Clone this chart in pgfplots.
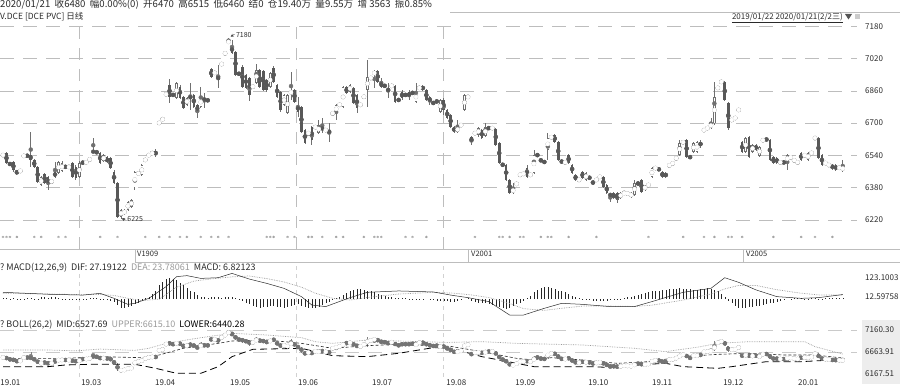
\documentclass[border=0pt]{standalone}
\usepackage{pgfplots}
\pgfplotsset{compat=1.18}
\usepackage{pgfplotstable}
\usepackage{fontspec}
\setmainfont{Noto Sans CJK SC}
\definecolor{dn}{HTML}{585858}
\definecolor{upc}{HTML}{707070}
\definecolor{gridc}{HTML}{BDBDBD}
\definecolor{faint}{HTML}{EDEDED}
\definecolor{txt}{HTML}{2A2A2A}
\definecolor{ltxt}{HTML}{9A9A9A}
\newcommand\lab{\fontsize{8}{9}\selectfont}
\newcommand\ttl{\fontsize{9}{10}\selectfont}

\pgfplotstableread{
i o h l c
0 6537 6552 6530 6547
1 6552 6557 6497 6502
2 6500 6505 6490 6495
3 6507 6512 6460 6468
4 6460 6468 6443 6455
5 6462 6470 6455 6465
6 6535 6545 6530 6540
7 6540 6545 6532 6537
8 6542 6656 6482 6517
9 6517 6522 6477 6482
10 6482 6487 6403 6408
11 6393 6438 6388 6433
12 6448 6455 6398 6403
13 6433 6440 6369 6393
14 6410 6420 6400 6413
15 6458 6507 6428 6433
16 6455 6512 6450 6507
17 6465 6510 6460 6502
18 6485 6490 6477 6482
19 6480 6492 6475 6485
20 6502 6507 6428 6433
21 6482 6490 6420 6428
22 6433 6512 6428 6502
23 6505 6510 6498 6504
24 6505 6512 6500 6507
25 6518 6527 6512 6522
26 6560 6626 6555 6557
27 6557 6560 6550 6555
28 6552 6557 6497 6502
29 6512 6545 6507 6540
30 6530 6535 6500 6505
31 6527 6532 6472 6477
32 6458 6468 6398 6403
33 6403 6408 6230 6235
34 6235 6275 6225 6270
35 6258 6275 6245 6260
36 6270 6312 6265 6309
37 6285 6325 6280 6319
38 6383 6462 6369 6458
39 6443 6465 6438 6458
40 6445 6497 6440 6492
41 6515 6525 6510 6520
42 6540 6547 6537 6542
43 6550 6557 6547 6552
44 6560 6570 6530 6545
45 6700 6706 6695 6702
46 6718 6725 6715 6720
47 6840 6850 6835 6845
48 6889 6919 6800 6829
49 6840 6845 6835 6839
50 6824 6904 6819 6899
51 6879 6889 6819 6824
52 6829 6834 6770 6775
53 6790 6830 6785 6824
54 6830 6899 6765 6826
55 6839 6845 6775 6780
56 6790 6795 6725 6755
57 6780 6879 6775 6829
58 6820 6849 6775 6815
59 6814 6818 6808 6812
60 6968 6973 6923 6928
61 6948 6955 6943 6950
62 6928 6988 6874 6918
63 6990 7000 6985 6995
64 7045 7050 7040 7047
65 7100 7122 7095 7105
66 7082 7112 7042 7047
67 7052 7057 6933 6938
68 6945 6950 6940 6943
69 6978 6988 6874 6879
70 6938 6943 6869 6874
71 6924 6930 6810 6839
72 6880 6885 6875 6882
73 6899 6993 6894 6963
74 6963 6968 6874 6879
75 6958 6963 6859 6864
76 6914 6920 6855 6864
77 6879 6953 6874 6948
78 6973 6983 6899 6904
79 6889 6894 6824 6829
80 6854 6859 6755 6765
81 6790 6845 6785 6839
82 6750 6845 6745 6839
83 6845 6953 6814 6860
84 6864 6870 6800 6805
85 6790 6829 6730 6755
86 6780 6785 6650 6656
87 6666 6670 6596 6601
88 6650 6655 6640 6651
89 6680 6685 6592 6616
90 6680 6685 6675 6681
91 6651 6715 6646 6691
92 6681 6725 6651 6666
93 6665 6670 6660 6666
94 6660 6700 6606 6656
95 6748 6752 6743 6750
96 6750 6795 6715 6790
97 6790 6795 6785 6792
98 6780 6884 6775 6879
99 6879 6884 6844 6849
100 6854 6894 6849 6889
101 6874 6879 6795 6800
102 6839 6845 6750 6775
103 6790 6795 6785 6792
104 6830 6835 6825 6832
105 6864 7013 6780 6928
106 6923 6928 6918 6925
107 6938 6963 6874 6958
108 6958 6963 6899 6904
109 6904 6924 6874 6879
110 6885 6890 6880 6884
111 6866 6899 6824 6864
112 6884 6889 6880 6885
113 6884 6889 6800 6805
114 6815 6820 6810 6814
115 6854 6864 6814 6824
116 6840 6845 6835 6839
117 6854 6864 6814 6829
118 6850 6855 6845 6849
119 6805 6899 6800 6854
120 6874 6880 6870 6875
121 6884 6889 6859 6864
122 6864 6869 6809 6814
123 6829 6834 6790 6805
124 6800 6805 6795 6799
125 6810 6820 6795 6805
126 6755 6819 6750 6814
127 6814 6824 6740 6765
128 6765 6770 6720 6725
129 6740 6745 6676 6681
130 6681 6686 6650 6656
131 6656 6715 6650 6681
132 6690 6695 6685 6691
133 6765 6845 6760 6839
134 6829 6835 6825 6830
135 6631 6636 6592 6606
136 6650 6655 6645 6651
137 6641 6681 6631 6676
138 6666 6671 6621 6626
139 6636 6700 6631 6681
140 6676 6680 6670 6675
141 6675 6680 6670 6676
142 6671 6676 6587 6592
143 6601 6606 6497 6502
144 6495 6500 6488 6492
145 6492 6497 6413 6418
146 6418 6423 6349 6354
147 6354 6403 6349 6378
148 6398 6405 6393 6400
149 6443 6448 6438 6445
150 6448 6453 6443 6450
151 6477 6492 6428 6433
152 6443 6448 6438 6445
153 6455 6567 6450 6542
154 6542 6547 6537 6540
155 6522 6525 6505 6510
156 6508 6512 6503 6507
157 6567 6651 6517 6626
158 6630 6635 6625 6631
159 6641 6646 6601 6606
160 6606 6611 6512 6517
161 6517 6522 6497 6502
162 6505 6510 6500 6507
163 6542 6547 6497 6502
164 6492 6497 6448 6453
165 6443 6448 6413 6418
166 6418 6423 6413 6420
167 6458 6463 6423 6428
168 6418 6458 6413 6453
169 6430 6435 6425 6428
170 6413 6418 6393 6398
171 6418 6423 6413 6420
172 6433 6438 6428 6435
173 6433 6438 6378 6383
174 6393 6398 6349 6354
175 6345 6354 6309 6344
176 6354 6359 6324 6329
177 6354 6359 6304 6319
178 6329 6359 6324 6354
179 6350 6365 6345 6356
180 6350 6355 6345 6352
181 6334 6359 6330 6354
182 6344 6418 6339 6403
183 6403 6410 6390 6400
184 6418 6423 6354 6359
185 6369 6395 6365 6390
186 6393 6398 6388 6395
187 6433 6482 6428 6477
188 6477 6482 6472 6478
189 6472 6477 6465 6470
190 6458 6463 6428 6433
191 6453 6458 6428 6433
192 6490 6495 6485 6492
193 6500 6505 6495 6502
194 6525 6530 6520 6527
195 6542 6616 6537 6601
196 6605 6610 6600 6606
197 6616 6621 6527 6532
198 6532 6537 6527 6530
199 6557 6606 6552 6601
200 6557 6611 6552 6606
201 6597 6616 6577 6596
202 6665 6670 6660 6666
203 6675 6680 6670 6676
204 6676 6725 6670 6700
205 6700 6904 6690 6829
206 6874 6879 6869 6875
207 6904 6909 6899 6905
208 6904 6909 6809 6814
209 6800 6805 6666 6676
210 6715 6720 6710 6716
211 6725 6730 6720 6726
212 6765 6770 6760 6766
213 6606 6611 6552 6557
214 6557 6631 6552 6626
215 6631 6636 6527 6532
216 6557 6597 6552 6592
217 6592 6597 6562 6567
218 6537 6587 6532 6582
219 6615 6620 6610 6616
220 6620 6625 6612 6618
221 6616 6621 6512 6517
222 6532 6537 6497 6502
223 6527 6532 6497 6502
224 6505 6510 6500 6507
225 6510 6515 6495 6500
226 6507 6547 6468 6542
227 6530 6535 6525 6532
228 6515 6520 6510 6517
229 6505 6510 6500 6507
230 6552 6557 6512 6517
231 6540 6545 6535 6542
232 6517 6557 6512 6552
233 6552 6557 6547 6553
234 6626 6631 6620 6627
235 6626 6631 6522 6527
236 6542 6547 6487 6492
237 6502 6507 6497 6503
238 6492 6497 6487 6493
239 6492 6497 6470 6477
240 6492 6497 6463 6468
241 6478 6485 6472 6480
242 6470 6515 6460 6480
}\price

\pgfplotstableread{
i y
0 6136
1 6136
2 6136
4 6136
9 6136
11 6136
16 6136
18 6136
28 6136
33 6136
41 6136
45 6136
48 6136
51 6136
53 6136
57 6136
60 6136
62 6136
65 6136
76 6136
77 6136
78 6136
82 6136
84 6136
88 6136
89 6136
92 6136
96 6136
98 6136
104 6136
107 6136
108 6136
109 6136
116 6136
118 6136
122 6136
136 6136
143 6136
144 6136
146 6136
149 6136
150 6136
155 6136
157 6136
158 6136
163 6136
171 6136
186 6136
196 6136
202 6136
205 6136
209 6136
210 6136
213 6136
222 6136
230 6136
234 6136
239 6136
}\stars

\pgfplotstableread{
v
8
6
-4
5
3
-3
4
6
5
-2
-6
10
12
8
14
10
6
4
3
2
-2
-3
2
3
4
6
8
5
2
-3
-6
-10
-18
-35
-50
-52
-48
-40
-28
-20
-10
5
15
30
50
80
100
115
122
118
110
95
80
65
50
40
25
15
10
8
12
15
10
8
12
15
10
5
-5
-12
-20
-30
-40
-45
-50
-48
-45
-40
-42
-45
-48
-50
-45
-40
-35
-30
-38
-45
-50
-52
-50
-45
-35
-25
-15
-5
5
12
25
35
45
55
60
62
55
50
45
40
30
25
20
15
10
8
6
5
5
4
3
4
3
2
0
-4
-6
-8
-10
-8
-12
-15
-18
-10
-5
0
5
-10
-15
-20
-25
-25
-30
-35
-40
-48
-52
-55
-50
-40
-30
-20
-10
5
20
40
55
65
72
70
65
60
50
45
40
30
20
10
5
2
-2
-5
-8
-10
-12
-10
-8
-6
-4
-2
2
5
10
15
20
25
30
35
40
45
48
50
52
55
58
60
62
64
62
60
58
55
55
58
62
64
60
55
45
30
10
-10
-25
-40
-50
-52
-50
-48
-45
-42
-40
-35
-30
-25
-20
-15
-10
-5
0
3
5
6
5
4
3
5
6
4
3
5
6
7
6
7
7
}\macdhist

\pgfplotstableread{
i v
0 40
14 28
23 24
28 34
32 5
36 -30
38 -24
42 5
47 73
50 131
53 137
57 121
62 125
66 150
71 117
76 92
81 63
86 15
89 -34
93 -43
100 9
105 40
114 48
124 42
129 24
134 9
140 -14
146 -92
150 -92
156 -53
161 -24
167 -30
175 -43
182 -43
187 -14
196 40
204 63
208 125
212 98
217 54
223 15
230 5
235 9
242 27
}\dif

\pgfplotstableread{
i v
0 35
14 30
23 26
28 28
32 22
36 5
40 -8
45 0
50 70
55 105
60 118
66 130
71 135
76 120
81 100
86 70
90 35
95 5
100 -5
105 10
114 30
124 40
130 35
135 25
140 10
146 -25
150 -55
156 -65
160 -55
167 -40
175 -40
182 -42
187 -35
196 -5
204 30
208 60
212 80
217 80
223 55
230 35
235 25
242 24
}\dea

\pgfplotstableread{
i v
0 6709
13 6709
21 6690
28 6730
38 6700
42 6747
47 6859
57 6987
66 7085
76 7047
86 6987
90 6896
95 6859
105 6935
114 6912
128 6880
138 6897
148 6859
167 6822
182 6747
191 6671
201 6784
206 6859
215 6897
225 6897
231 6897
234 6784
239 6680
242 6615
}\bollup

\pgfplotstableread{
i v
0 6521
18 6521
28 6558
40 6536
45 6596
52 6747
62 6859
66 6912
76 6935
86 6859
95 6747
105 6807
114 6837
129 6790
138 6671
148 6521
153 6483
158 6536
167 6483
177 6408
186 6446
196 6559
206 6611
215 6634
225 6596
234 6596
242 6528
}\bollmid

\pgfplotstableread{
i v
0 6333
13 6333
18 6371
25 6386
38 6386
44 6296
50 6183
57 6183
62 6333
66 6559
72 6724
86 6747
95 6581
105 6559
114 6634
124 6762
129 6747
138 6559
148 6408
153 6333
169 6333
177 6310
182 6371
191 6408
196 6333
206 6295
210 6333
220 6446
230 6446
239 6483
242 6440
}\bolllow

% #1 units per px, #2 body width, #3 wick width, #4 down colour, #5 up colour
\newcommand{\candles}[5]{%
\addplot[only marks, mark=none, color=#5, forget plot, error bars/.cd, y dir=both, y explicit, error mark=none, error bar style={line width=#3}] table[x=i, y expr={(\thisrow{h}+\thisrow{l})/2}, y error expr={(\thisrow{h}-\thisrow{l})/2}] {\price};
\addplot[only marks, mark=none, color=#4, forget plot, restrict expr to domain={\thisrow{o}-\thisrow{c}}{0.5:100000}, error bars/.cd, y dir=both, y explicit, error mark=none, error bar style={line width=#2}] table[x=i, y expr={(\thisrow{o}+\thisrow{c})/2}, y error expr={max(abs(\thisrow{o}-\thisrow{c})/2,0.5*#1)}] {\price};
\addplot[only marks, mark=none, color=#5, forget plot, restrict expr to domain={\thisrow{c}-\thisrow{o}}{-0.5:100000}, error bars/.cd, y dir=both, y explicit, error mark=none, error bar style={line width=#2}] table[x=i, y expr={(\thisrow{o}+\thisrow{c})/2}, y error expr={max(abs(\thisrow{o}-\thisrow{c})/2,0.5*#1)}] {\price};
\addplot[only marks, mark=none, color=white, forget plot, restrict expr to domain={\thisrow{c}-\thisrow{o}}{-0.5:100000}, error bars/.cd, y dir=both, y explicit, error mark=none, error bar style={line width=#2-1.2pt}] table[x=i, y expr={(\thisrow{o}+\thisrow{c})/2}, y error expr={max(abs(\thisrow{o}-\thisrow{c})/2-0.6*#1,0)}] {\price};
}

\pgfplotsset{
  panel/.style={scale only axis, width=857pt, xmin=-0.8646, xmax=246.1,
    axis line style={draw=none}, tick style={draw=none},
    yticklabel pos=right,
    yticklabel style={anchor=west, inner sep=0pt, font=\lab, text=txt, xshift=8pt},
    /pgf/number format/assume math mode=true,
    xtick={21.9,84.4,126.8}, xticklabels={}, xmajorgrids,
    x grid style={gridc, dash pattern=on 12pt off 9pt, line width=0.5pt},
  },
}

\begin{document}
\begin{tikzpicture}[x=1pt,y=1pt]
\useasboundingbox (0,0) rectangle (900,390);
% header
\node[anchor=west, inner sep=0pt, font=\fontsize{9.6}{10}\selectfont, text=txt] at (0,385.5) {2020/01/21\ \ 收6480\ \ 幅0.00\%(0)\ \ 开6470\ \ 高6515\ \ 低6460\ \ 结0\ \ 仓19.40万\ \ 量9.55万\ \ 增\ 3563\ \ 振0.85\%};
\node[anchor=west, inner sep=0pt, font=\fontsize{8.5}{10}\selectfont, text=txt] at (0,373) {V.DCE [DCE PVC] 日线};
\draw[gridc, line width=0.6pt] (450,378) -- (900,378);
\node[anchor=east, inner sep=0pt, font=\lab, text=txt] (rng) at (843,373) {2019/01/22 2020/01/21(2/2三)};
\draw[txt, line width=0.5pt] ([yshift=-0.8pt]rng.south west) -- ([yshift=-0.8pt]rng.south east);
\fill[txt!80] (845,376) -- (852,376) -- (848.5,370.5) -- cycle;
\fill[faint!70!gray] (855,371) rectangle (860,376);

% main price panel
\begin{axis}[panel, at={(0pt,141pt)}, anchor=south west, height=229pt,
  ymin=6076.33, ymax=7210.8,
  ytick={6380,6540,6700,7180}, yticklabels={6380,6540,6700,7180},
  extra y ticks={6220,6860,7020}, extra y tick labels={6220,6860,7020},
  ymajorgrids, y grid style={gridc, dash pattern=on 14pt off 9pt, line width=0.6pt},
  extra y tick style={grid style={faint, solid, line width=0.5pt}},
]
\candles{4.954}{2.6pt}{0.8pt}{dn}{upc}
\addplot[only marks, mark=asterisk, mark size=1.3pt, color=ltxt, line width=0.35pt] table[x=i, y=y] {\stars};
\node[anchor=west, inner sep=0pt, font=\fontsize{7}{8}\selectfont, text=txt] at (axis cs:67.1,7136) {7180};
\draw[txt, line width=0.4pt, ->, >=stealth] (axis cs:66.7,7140) -- (axis cs:65.6,7128);
\node[anchor=west, inner sep=0pt, font=\fontsize{7}{8}\selectfont, text=txt] at (axis cs:35.8,6225) {6225};
\draw[txt, line width=0.4pt, ->, >=stealth] (axis cs:35.3,6220) -- (axis cs:34.2,6228);
\end{axis}

% panel separators and contract labels
\draw[gridc, line width=0.7pt] (0,141) -- (900,141);
\draw[gridc, line width=0.6pt] (135,128) -- (900,128);
\foreach \xx in {135,468,743} \draw[gridc, line width=0.6pt] (\xx,141) -- (\xx,128);
\node[anchor=west, inner sep=0pt, font=\fontsize{7.5}{8}\selectfont, text=txt] at (137,136.5) {V1909};
\node[anchor=west, inner sep=0pt, font=\fontsize{7.5}{8}\selectfont, text=txt] at (471,136.5) {V2001};
\node[anchor=west, inner sep=0pt, font=\fontsize{7.5}{8}\selectfont, text=txt] at (746,136.5) {V2005};

% MACD panel
\begin{axis}[panel, at={(0pt,72pt)}, anchor=south west, height=55pt,
  ymin=-109.3, ymax=210.5,
  ytick={12.59758,123.1003}, yticklabels={12.59758,123.1003},
  x grid style={gridc!70, dash pattern=on 4pt off 4pt, line width=0.5pt},
]
\addplot[ycomb, black!85, line width=0.4pt, mark=none] table[x expr=\coordindex, y=v] {\macdhist};
\addplot[ltxt, densely dotted, line width=0.7pt, mark=none] table[x=i, y=v] {\dea};
\addplot[txt, line width=0.5pt, mark=none] table[x=i, y=v] {\dif};
\end{axis}
\node[anchor=west, inner sep=0pt, font=\ttl] at (0,122) {\textcolor{txt}{?\ MACD(12,26,9)\ \ DIF: 27.19122}\ \ \textcolor{ltxt}{DEA: 23.78061}\ \ \textcolor{txt}{MACD: 6.82123}};

% BOLL panel
\fill[faint] (862,6) rectangle (900,70);
\begin{axis}[panel, at={(0pt,13pt)}, anchor=south west, height=59pt,
  ymin=6099.9, ymax=7430.9,
  ytick={6167.51,6663.91,7160.30}, yticklabels={6167.51,6663.91,7160.30},
  extra y ticks={6663.91,7160.30}, extra y tick labels={},
  extra y tick style={ymajorgrids, grid style={gridc!80, dash pattern=on 14pt off 9pt, line width=0.5pt}},
  extra x ticks={-0.8,22.5,43.8,65.4,85.0,106.3,127.7,147.6,168.6,187.0,207.5,229.1},
  extra x tick labels={19.01,19.03,19.04,19.05,19.06,19.07,19.08,19.09,19.10,19.11,19.12,20.01},
  extra x tick style={xmajorgrids=false, xticklabel style={anchor=north west, inner sep=0pt, font=\lab, text=txt, yshift=-2.5pt}},
  x grid style={gridc!70, dash pattern=on 4pt off 4pt, line width=0.5pt},
]
\candles{22.56}{1.6pt}{0.45pt}{black!55}{black!50}
\addplot[ltxt, densely dotted, line width=0.7pt, mark=none] table[x=i, y=v] {\bollup};
\addplot[txt, dash pattern=on 3pt off 2pt, line width=0.6pt, mark=none] table[x=i, y=v] {\bollmid};
\addplot[black, dash pattern=on 7pt off 4pt, line width=0.8pt, mark=none] table[x=i, y=v] {\bolllow};
\end{axis}
\node[anchor=west, inner sep=0pt, font=\ttl] at (0,65) {\textcolor{txt}{?\ BOLL(26,2)\ \ MID:6527.69}\ \ \textcolor{ltxt}{UPPER:6615.10}\ \ \textcolor{black}{LOWER:6440.28}};
\end{tikzpicture}
\end{document}
